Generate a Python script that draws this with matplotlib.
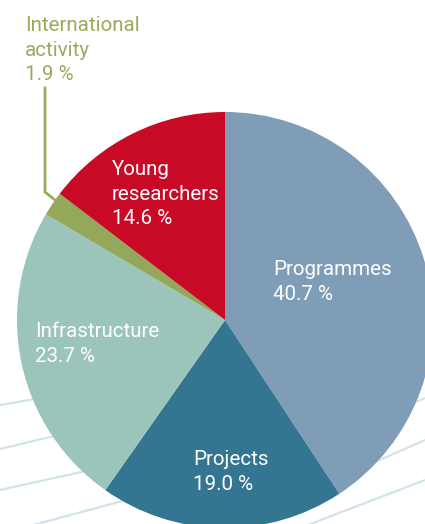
import matplotlib
matplotlib.use("Agg")
import matplotlib.pyplot as plt

# ---- data ----
categories = ["Programmes", "Projects", "Infrastructure", "International\nactivity", "Young\nresearchers"]
shares = [40.7, 19.0, 23.7, 1.9, 14.6]
colors = ["#7f9db7", "#347592", "#9bc4ba", "#93a85b", "#c80a27"]

W, H = 425, 524
fig = plt.figure(figsize=(W / 100, H / 100), dpi=100)
ax = fig.add_axes([0, 0, 1, 1])

def py(y):
    return H - y

# decorative background lines
bg = "#d3e3ea"
for (x0, y0, x1, y1) in [(0, 405, 230, 366), (0, 449, 230, 394), (0, 490, 230, 439), (0, 534, 230, 472),
                         (300, 452, 425, 398), (300, 495, 425, 440), (300, 528, 425, 480)]:
    ax.plot([x0, x1], [py(y0), py(y1)], color=bg, lw=1.6, zorder=1, solid_capstyle="butt")

cx, cy, r = 225, 320, 208
wedges, _ = ax.pie(shares, colors=colors, startangle=90, counterclock=False,
                   center=(cx, py(cy)), radius=r, frame=True,
                   wedgeprops=dict(linewidth=0))
for w in wedges:
    w.set_zorder(2)
ax.set_xlim(0, W)
ax.set_ylim(0, H)
ax.set_aspect("equal")
ax.axis("off")

font = "Roboto"
fs = 14.8
step = 24.5

def block(lines, x, y_first_baseline, color):
    for i, line in enumerate(lines):
        ax.text(x, py(y_first_baseline + i * step), line, color=color, fontsize=fs,
                family=font, ha="left", va="baseline", zorder=5)

label_pos = [(273, 275), (193, 465), (35, 337), (25, 31), (112, 175)]
olive = "#9aab5c"
for k, (cat, val, pos) in enumerate(zip(categories, shares, label_pos)):
    lines = cat.split("\n") + [f"{val:.1f} %"]
    block(lines, pos[0], pos[1], olive if k == 3 else "white")

# leader line for International activity
ax.plot([45, 45, 55], [py(88), py(192), py(200)], color=olive, lw=2, zorder=4)

fig.savefig("out.png", dpi=100)
